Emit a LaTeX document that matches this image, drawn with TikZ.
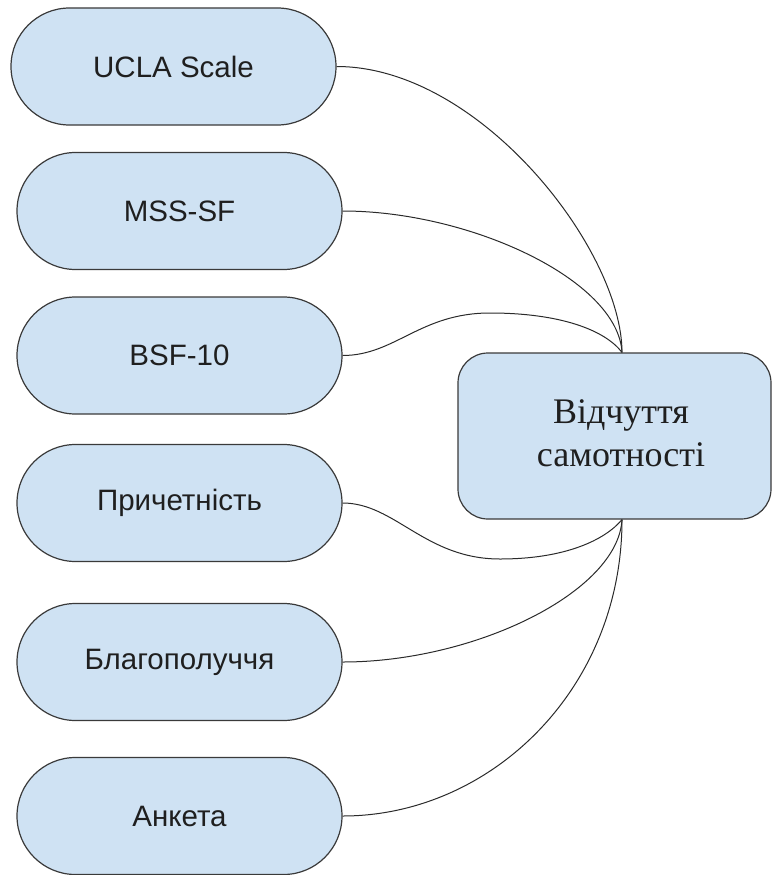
\documentclass[tikz,border=0pt]{standalone}
\usepackage{fontspec}
\setmainfont{Liberation Serif}
\newfontfamily\arialf{Liberation Sans}
\usetikzlibrary{shapes.misc,calc}
\definecolor{boxfill}{HTML}{CFE2F3}
\definecolor{boxline}{HTML}{3A3A3A}
\definecolor{wire}{HTML}{2A2A2A}
\definecolor{txt}{HTML}{1F1F1F}
\tikzset{
  pill/.style={rounded rectangle, draw=boxline, fill=boxfill, line width=1.2pt,
    minimum width=325pt, minimum height=117pt, inner sep=0pt,
    font=\arialf\fontsize{29.5}{35}\selectfont, text=txt},
  mainbox/.style={rectangle, rounded corners=30pt, draw=boxline, fill=boxfill,
    line width=1.2pt, minimum width=313pt, minimum height=166pt, inner sep=0pt},
  maintext/.style={align=center, inner sep=0pt, text=txt,
    font=\fontsize{36}{43}\selectfont},
  wireline/.style={draw=wire, line width=1pt}
}
\begin{document}
\begin{tikzpicture}[x=1pt,y=-1pt]
\useasboundingbox (0,0) rectangle (772,875);
\node[pill] (ucla)  at (173.5,66.5) {UCLA Scale};
\node[pill] (mss)   at (179.5,211)  {MSS-SF};
\node[pill] (bsf)   at (179.5,355.5){BSF-10};
\node[pill] (pri)   at (179.5,503)  {Причетність};
\node[pill] (blago) at (179.5,662)  {Благополуччя};
\node[pill] (ank)   at (179.5,816)  {Анкета};
\node[mainbox] (main) at (614.5,436) {};
\node[maintext] (maintxt) at (621,433) {Відчуття\\самотності};
\coordinate (top) at ($(main.north)+(7.5pt,0)$);
\coordinate (bot) at ($(main.south)+(7.5pt,0)$);
\draw[wireline] (ucla.east) .. controls (480,66.5) and (622,250) .. (top);
\draw[wireline] (mss.east) .. controls (470,211) and (618,280) .. (top);
\draw[wireline] (bsf.east) .. controls (395,355.5) and (420,313) .. (490,313)
   .. controls (560,313) and (605,330) .. (top);
\draw[wireline] (pri.east) .. controls (395,503) and (425,559) .. (500,559)
   .. controls (565,559) and (605,540) .. (bot);
\draw[wireline] (blago.east) .. controls (475,662) and (618,592) .. (bot);
\draw[wireline] (ank.east) .. controls (490,816) and (622,690) .. (bot);
\end{tikzpicture}
\end{document}
